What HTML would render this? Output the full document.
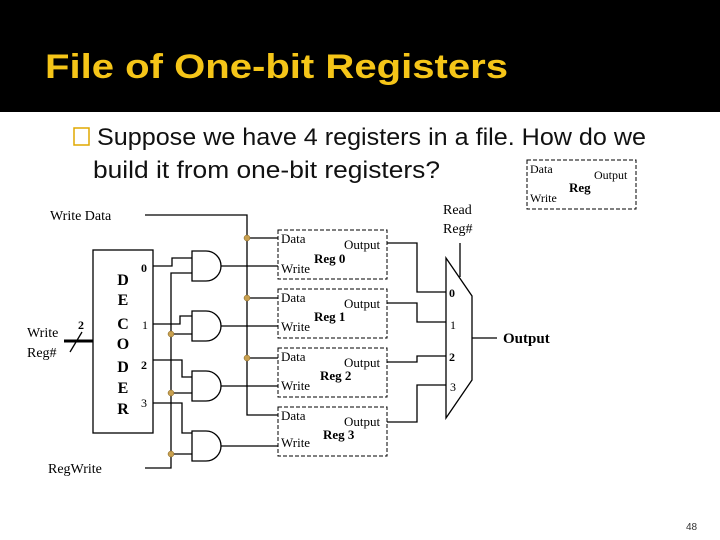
<!DOCTYPE html>
<html><head><style>html,body{margin:0;padding:0;background:#fff}svg{display:block}</style></head>
<body>
<svg width="720" height="540" viewBox="0 0 720 540" xmlns="http://www.w3.org/2000/svg">
<rect x="0" y="0" width="720" height="112" fill="#000"/>
<text x="45" y="78" font-family="Liberation Sans, sans-serif" font-size="34" font-weight="bold" fill="#f5c518" textLength="463" lengthAdjust="spacingAndGlyphs">File of One-bit Registers</text>
<rect x="74" y="128" width="15" height="17" fill="none" stroke="#e0a800" stroke-width="1.5"/>
<text x="97" y="145" font-family="Liberation Sans, sans-serif" font-size="24" fill="#111" textLength="549" lengthAdjust="spacingAndGlyphs">Suppose we have 4 registers in a file. How do we</text>
<text x="93" y="178" font-family="Liberation Sans, sans-serif" font-size="24" fill="#111" textLength="347" lengthAdjust="spacingAndGlyphs">build it from one-bit registers?</text>

<g font-family="Liberation Serif, serif" fill="#000">
<g stroke="#000" stroke-width="1.3" fill="none">
<polyline points="145,215 247,215 247,415 278,415"/>
<line x1="247" y1="238" x2="278" y2="238"/>
<line x1="247" y1="298" x2="278" y2="298"/>
<line x1="247" y1="358" x2="278" y2="358"/>
<rect x="93" y="250" width="60" height="183"/>
<polyline points="153,266 172,266 172,258 192,258"/>
<polyline points="153,324 180,324 180,316 192,316"/>
<polyline points="153,360 182,360 182,377 192,377"/>
<polyline points="153,403 182,403 182,433 192,433"/>
<polyline points="145,468 171,468 171,273 192,273"/>
<line x1="171" y1="334" x2="192" y2="334"/>
<line x1="171" y1="393" x2="192" y2="393"/>
<line x1="171" y1="454" x2="192" y2="454"/>
<path d="M192,251 H206 A15,15 0 0 1 206,281 H192 Z"/>
<path d="M192,311 H206 A15,15 0 0 1 206,341 H192 Z"/>
<path d="M192,371 H206 A15,15 0 0 1 206,401 H192 Z"/>
<path d="M192,431 H206 A15,15 0 0 1 206,461 H192 Z"/>
<line x1="221" y1="266" x2="278" y2="266"/>
<line x1="221" y1="326" x2="278" y2="326"/>
<line x1="221" y1="386" x2="278" y2="386"/>
<line x1="221" y1="446" x2="278" y2="446"/>
<polyline points="387,243 417,243 417,292 446,292"/>
<polyline points="387,303 417,303 417,322 446,322"/>
<polyline points="387,362 417,362 417,356 446,356"/>
<polyline points="387,422 417,422 417,385 446,385"/>
<polygon points="446,258 472,296 472,380 446,418"/>
<line x1="460" y1="243" x2="460" y2="277"/>
<line x1="472" y1="338" x2="497" y2="338"/>
<line x1="64" y1="341" x2="93" y2="341" stroke-width="3"/>
<line x1="70" y1="352" x2="82" y2="332"/>
<g stroke-dasharray="4,2" stroke-width="1">
<rect x="278" y="230" width="109" height="49"/>
<rect x="278" y="289" width="109" height="49"/>
<rect x="278" y="348" width="109" height="49"/>
<rect x="278" y="407" width="109" height="49"/>
<rect x="527" y="160" width="109" height="49"/>
</g>
</g>
<g fill="#c8a050" stroke="#806020" stroke-width="0.5">
<circle cx="247" cy="238" r="3"/><circle cx="247" cy="298" r="3"/><circle cx="247" cy="358" r="3"/>
<circle cx="171" cy="334" r="3"/><circle cx="171" cy="393" r="3"/><circle cx="171" cy="454" r="3"/>
</g>
<g font-size="14">
<text x="50" y="220">Write Data</text>
<text x="48" y="473">RegWrite</text>
<text x="27" y="337">Write</text>
<text x="27" y="357">Reg#</text>
<text x="78" y="329" font-size="12" font-weight="bold">2</text>
<text x="443" y="214">Read</text>
<text x="443" y="233">Reg#</text>
</g>
<g font-size="16" font-weight="bold" text-anchor="middle">
<text x="123" y="285">D</text><text x="123" y="305">E</text><text x="123" y="329">C</text><text x="123" y="349">O</text><text x="123" y="372">D</text><text x="123" y="393">E</text><text x="123" y="414">R</text>
</g>
<g font-size="12">
<text x="141" y="272" font-weight="bold">0</text><text x="142" y="329">1</text><text x="141" y="369" font-weight="bold">2</text><text x="141" y="407">3</text>
<text x="449" y="297" font-weight="bold">0</text><text x="450" y="329">1</text><text x="449" y="361" font-weight="bold">2</text><text x="450" y="391">3</text>
</g>
<text x="503" y="343" font-size="15" font-weight="bold">Output</text>
<g font-size="13">
<text x="281" y="243">Data</text><text x="344" y="249">Output</text><text x="281" y="273">Write</text><text x="314" y="263" font-weight="bold">Reg 0</text>
<text x="281" y="302">Data</text><text x="344" y="308">Output</text><text x="281" y="331">Write</text><text x="314" y="321" font-weight="bold">Reg 1</text>
<text x="281" y="361">Data</text><text x="344" y="367">Output</text><text x="281" y="390">Write</text><text x="320" y="380" font-weight="bold">Reg 2</text>
<text x="281" y="420">Data</text><text x="344" y="426">Output</text><text x="281" y="447">Write</text><text x="323" y="439" font-weight="bold">Reg 3</text>
<text x="530" y="173" font-size="12">Data</text><text x="594" y="179" font-size="12">Output</text><text x="530" y="202" font-size="12">Write</text><text x="569" y="192" font-weight="bold">Reg</text>
</g>
</g>
<text x="686" y="530" font-family="Liberation Sans, sans-serif" font-size="10" fill="#333">48</text>
</svg>
</body></html>
